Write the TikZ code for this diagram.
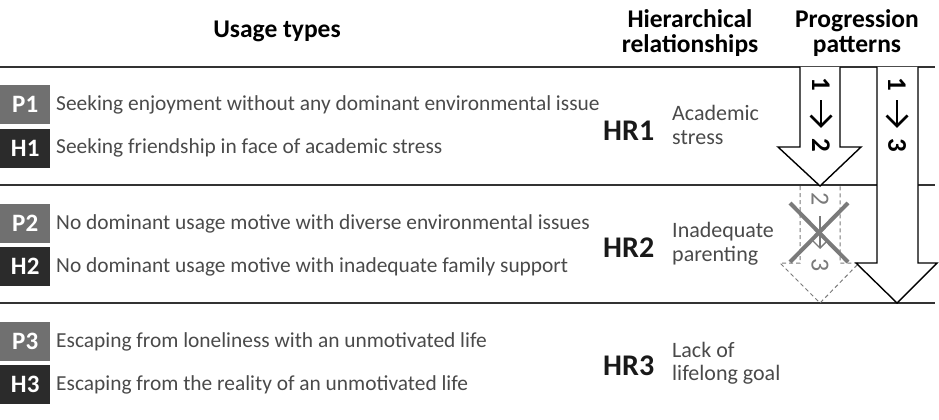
\documentclass[tikz,border=0pt]{standalone}
\usepackage{fontspec}
\setmainfont{Carlito}
\definecolor{pgray}{HTML}{707070}
\definecolor{hgray}{HTML}{2B2B2B}
\definecolor{txtgray}{HTML}{4A4A4A}
\definecolor{rulegray}{HTML}{333333}
\definecolor{xgray}{HTML}{7A7A7A}
\begin{document}
\begin{tikzpicture}[x=1pt,y=-1pt,
  head/.style={font=\bfseries\fontsize{25.5}{25}\selectfont, text=black, inner sep=0pt, align=center},
  badge/.style={minimum width=50pt, minimum height=39pt, inner sep=0pt, anchor=north west,
     font=\bfseries\fontsize{25}{25}\selectfont, text=white},
  pbadge/.style={badge, fill=pgray},
  hbadge/.style={badge, fill=hgray},
  usage/.style={anchor=west, inner sep=0pt, text=txtgray, font=\fontsize{21.4}{22}\selectfont},
  hrlab/.style={anchor=west, inner sep=0pt, text=black!90, font=\bfseries\fontsize{30}{30}\selectfont},
  hrsub/.style={anchor=west, inner sep=0pt, text=txtgray, align=left, font=\fontsize{22}{23.5}\selectfont},
  rulel/.style={draw=rulegray, line width=2pt},
  bigarrow/.style={draw=black, line width=1.4pt, fill=white, line join=miter},
  dasharrow/.style={draw=xgray, line width=1pt, dashed, dash pattern=on 4pt off 3pt},
  cross/.style={draw=xgray, line width=4pt},
  digit/.style={rotate=-90, inner sep=0pt, font=\bfseries\fontsize{27}{27}\selectfont},
  ddigit/.style={rotate=-90, inner sep=0pt, text=xgray, font=\fontsize{26}{26}\selectfont},
  minarrow/.style={draw=black, line width=2.8pt, line cap=butt, line join=miter},
  dminarrow/.style={draw=xgray, line width=1.4pt},
]
\useasboundingbox (0,0) rectangle (939,420);

% headers
\node[head] (hu) at (277,31) {Usage types};
\node[head] (hh) at (690,33) {Hierarchical\\relationships};
\node[head] (hp) at (857,33) {Progression\\patterns};

% rules
\draw[rulel] (0,67) -- (935,67);
\draw[rulel] (0,185) -- (935,185);
\draw[rulel] (0,303) -- (935,303);

% badges and usage texts
\node[pbadge] (p1) at (0,85) {P1};
\node[hbadge] (h1) at (0,129) {H1};
\node[pbadge] (p2) at (0,204) {P2};
\node[hbadge] (h2) at (0,247) {H2};
\node[pbadge] (p3) at (0,322) {P3};
\node[hbadge] (h3) at (0,365) {H3};

\node[usage] (tp1) at (56,105) {Seeking enjoyment without any dominant environmental issue};
\node[usage] (th1) at (56,148) {Seeking friendship in face of academic stress};
\node[usage] (tp2) at (56,224) {No dominant usage motive with diverse environmental issues};
\node[usage] (th2) at (56,267) {No dominant usage motive with inadequate family support};
\node[usage] (tp3) at (56,342) {Escaping from loneliness with an unmotivated life};
\node[usage] (th3) at (56,385) {Escaping from the reality of an unmotivated life};

% hierarchical relationships
\node[hrlab] (hr1) at (603,131) {HR1};
\node[hrsub] (s1) at (672,125) {Academic\\stress};
\node[hrlab] (hr2) at (603,248) {HR2};
\node[hrsub] (s2) at (672,244) {Inadequate\\parenting};
\node[hrlab] (hr3) at (603,366) {HR3};
\node[hrsub] (s3) at (672,363) {Lack of\\lifelong goal};

% dashed (crossed) arrow 2 -> 3
\draw[dasharrow] (800,186) -- (800,263) -- (780,263) -- (820,303) -- (859,263) -- (840,263) -- (840,186);
\node[ddigit] (d2) at (820,199) {2};
\node[ddigit] (d3) at (820,265) {3};
\draw[dminarrow] (820,216) -- (820,248);
\draw[dminarrow] (813,241) -- (820,248) -- (827,241);
\draw[cross] (790,203) -- (848,262);
\draw[cross] (848,203) -- (790,262);

% arrow 1 -> 2
\draw[bigarrow] (800,67) -- (800,147) -- (778,147) -- (820,186) -- (861,147) -- (840,147) -- (840,67);
\node[digit] (a1) at (821,84) {1};
\node[digit] (a2) at (821,145) {2};
\draw[minarrow] (821,100) -- (821,126);
\draw[minarrow] (810.5,115.5) -- (821,126) -- (831.5,115.5);

% arrow 1 -> 3
\draw[bigarrow] (877,67) -- (877,263) -- (856,263) -- (897,303) -- (937,263) -- (918,263) -- (918,67);
\node[digit] (b1) at (897,84) {1};
\node[digit] (b3) at (897,145) {3};
\draw[minarrow] (897,100) -- (897,126);
\draw[minarrow] (886.5,115.5) -- (897,126) -- (907.5,115.5);
\end{tikzpicture}
\end{document}
